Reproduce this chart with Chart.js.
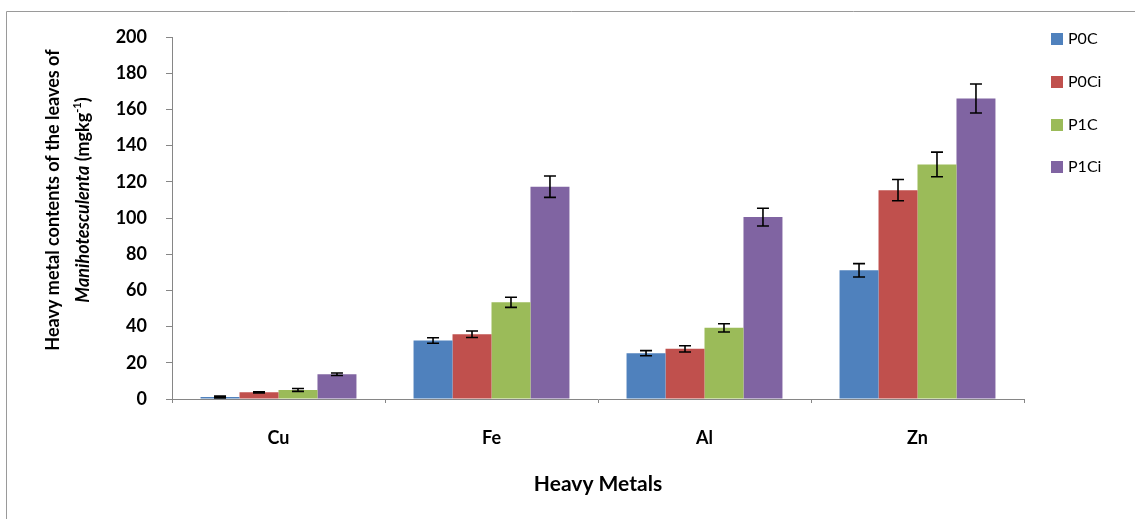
<!DOCTYPE html>
<html>
<head>
<meta charset="utf-8">
<script src="https://cdn.jsdelivr.net/npm/chart.js@4.4.1/dist/chart.umd.min.js"></script>
<style>
  html, body { margin: 0; padding: 0; background: #fff; }
  #wrap { position: relative; width: 1135px; height: 519px; overflow: hidden; }
</style>
</head>
<body>
<div id="wrap"><canvas id="chart" width="1135" height="519"></canvas></div>
<script>
// Heavy metal contents (mg/kg) of cassava leaves per treatment
const categories = ['Cu', 'Fe', 'Al', 'Zn'];
const seriesNames = ['P0C', 'P0Ci', 'P1C', 'P1Ci'];
const p0c  = [1.1, 32.3, 25.3, 71.1];
const p0ci = [3.7, 35.8, 27.7, 115.4];
const p1c  = [5.0, 53.4, 39.3, 129.6];
const p1ci = [13.7, 117.3, 100.5, 166.0];
// standard errors
const p0cErr  = [0.5, 1.5, 1.4, 3.7];
const p0ciErr = [0.3, 1.8, 1.7, 5.9];
const p1cErr  = [0.8, 2.8, 2.3, 6.8];
const p1ciErr = [0.7, 5.9, 4.9, 8.0];
// value axis
const yMin = 0, yMax = 200, yStep = 20;

const colors = ['#4F81BD', '#C0504D', '#9BBB59', '#8064A2'];
const values = [p0c, p0ci, p1c, p1ci];
const errors = [p0cErr, p0ciErr, p1cErr, p1ciErr];

const FONT = 'Lato, "Liberation Sans", sans-serif';
const AXIS = '#868686';

// outer frame of the figure
const framePlugin = {
  id: 'frame',
  beforeDraw(chart) {
    const ctx = chart.ctx;
    ctx.save();
    ctx.strokeStyle = '#9a9a9a';
    ctx.lineWidth = 1;
    ctx.beginPath();
    ctx.moveTo(6.5, 600);
    ctx.lineTo(6.5, 11.5);
    ctx.lineTo(1200, 11.5);
    ctx.stroke();
    ctx.restore();
  }
};

// error bars on top of every bar
const errorBarPlugin = {
  id: 'errorBars',
  afterDatasetsDraw(chart) {
    const ctx = chart.ctx;
    const y = chart.scales.y;
    ctx.save();
    ctx.strokeStyle = '#000';
    ctx.lineWidth = 1.6;
    chart.data.datasets.forEach((ds, di) => {
      const meta = chart.getDatasetMeta(di);
      meta.data.forEach((bar, i) => {
        const v = ds.data[i], e = ds.errors[i];
        const top = y.getPixelForValue(v + e);
        const bot = y.getPixelForValue(Math.max(v - e, 0));
        const cap = 6;
        ctx.beginPath();
        ctx.moveTo(bar.x, top); ctx.lineTo(bar.x, bot);
        ctx.moveTo(bar.x - cap, top); ctx.lineTo(bar.x + cap, top);
        ctx.moveTo(bar.x - cap, bot); ctx.lineTo(bar.x + cap, bot);
        ctx.stroke();
      });
    });
    ctx.restore();
  }
};

// axis titles and legend
const textPlugin = {
  id: 'texts',
  afterDraw(chart) {
    const ctx = chart.ctx;
    ctx.save();
    ctx.fillStyle = '#000';
    ctx.textBaseline = 'middle';

    // y axis title (two lines, rotated)
    ctx.save();
    ctx.translate(53, 200);
    ctx.rotate(-Math.PI / 2);
    ctx.textAlign = 'center';
    ctx.font = 'bold 18px ' + FONT;
    ctx.fillText('Heavy metal contents of the leaves of', 0, 0);
    const segs = [
      { t: 'Manihotesculenta', f: 'italic bold 18px ' + FONT, dy: 0 },
      { t: ' (mgkg', f: 'bold 18px ' + FONT, dy: 0 },
      { t: '-1', f: 'bold 11px ' + FONT, dy: -6 },
      { t: ')', f: 'bold 18px ' + FONT, dy: 0 }
    ];
    let total = 0;
    segs.forEach(s => { ctx.font = s.f; s.w = ctx.measureText(s.t).width; total += s.w; });
    let x = -total / 2;
    ctx.textAlign = 'left';
    segs.forEach(s => { ctx.font = s.f; ctx.fillText(s.t, x, 30 + s.dy); x += s.w; });
    ctx.restore();

    // x axis title
    ctx.textAlign = 'center';
    ctx.font = 'bold 21px ' + FONT;
    ctx.fillText('Heavy Metals', 598, 484);

    // legend
    ctx.textAlign = 'left';
    ctx.font = '16px ' + FONT;
    const rows = [39, 82, 125, 167];
    chart.data.datasets.forEach((ds, i) => {
      ctx.fillStyle = ds.backgroundColor;
      ctx.fillRect(1051, rows[i] - 6, 12, 12);
      ctx.fillStyle = '#000';
      ctx.fillText(ds.label, 1068, rows[i]);
    });
    ctx.restore();
  }
};

new Chart(document.getElementById('chart'), {
  type: 'bar',
  data: {
    labels: categories,
    datasets: seriesNames.map((name, i) => ({
      label: name,
      data: values[i],
      errors: errors[i],
      backgroundColor: colors[i],
      borderWidth: 0,
      barPercentage: 1.0,
      categoryPercentage: 0.732
    }))
  },
  options: {
    responsive: false,
    animation: false,
    devicePixelRatio: 1,
    layout: { padding: { left: 0, right: 111, top: 37, bottom: 0 } },
    plugins: { legend: { display: false }, tooltip: { enabled: false } },
    scales: {
      y: {
        min: yMin, max: yMax,
        afterFit(s) { s.width = 172; },
        ticks: { stepSize: yStep, color: '#000', padding: 19, font: { family: FONT, size: 18, weight: 'bold' } },
        grid: { drawOnChartArea: false, drawTicks: true, tickLength: 6, color: AXIS },
        border: { color: AXIS, width: 1 }
      },
      x: {
        afterFit(s) { s.height = 120; },
        ticks: { color: '#000', padding: 24, font: { family: FONT, size: 18, weight: 'bold' } },
        grid: { drawOnChartArea: false, drawTicks: true, tickLength: 4, offset: true, color: AXIS },
        border: { color: AXIS, width: 1 }
      }
    }
  },
  plugins: [framePlugin, errorBarPlugin, textPlugin]
});
</script>
</body>
</html>
